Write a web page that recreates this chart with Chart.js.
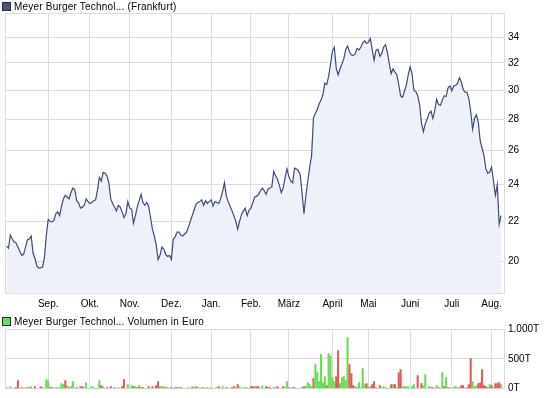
<!DOCTYPE html>
<html>
<head>
<meta charset="utf-8">
<script src="https://cdn.jsdelivr.net/npm/chart.js@4.4.1/dist/chart.umd.min.js"></script>
<style>
html,body{margin:0;padding:0;background:#fff;width:545px;height:398px;overflow:hidden;}
#wrap{position:relative;width:545px;height:398px;font-family:'Liberation Sans',Arial,sans-serif;}
.leg{position:absolute;left:0;height:13px;font-size:10px;line-height:13px;color:#000;letter-spacing:0.2px;white-space:nowrap;}
.leg .sw{position:absolute;left:2px;top:2px;width:7px;height:7px;border:1px solid #2b2b2b;}
.leg .tx{position:absolute;left:14px;top:0;}
#c1{position:absolute;left:0;top:0;}
#c2{position:absolute;left:0;top:316px;}
</style>
</head>
<body>
<div id="wrap">
  <canvas id="c1" width="545" height="316"></canvas>
  <canvas id="c2" width="545" height="82"></canvas>
  <div class="leg" style="top:0px;width:300px"><span class="sw" style="background:#46557f"></span><span class="tx">Meyer Burger Technol... (Frankfurt)</span></div>
  <div class="leg" style="top:315px;width:300px"><span class="sw" style="background:#66dd66"></span><span class="tx">Meyer Burger Technol... Volumen in Euro</span></div>
</div>
<script>
// ---- data ----
const monthLabels = ['Sep.','Okt.','Nov.','Dez.','Jan.','Feb.','März','April','Mai','Juni','Juli','Aug.'];
const monthStarts = [22,44,65,87,108,129,149,172,191,213,235,256];
const priceTicks = [20,22,24,26,28,30,32,34];
const volumeTicks = [0,500,1000];
const volumeTickLabels = ['0T','500T','1.000T'];

const prices = [
20.75,20.65,21.3,21.1,20.95,20.9,20.7,20.5,20.3,20.35,
20.7,21.05,21.1,21.25,20.4,20.15,19.8,19.7,19.72,19.75,
20.2,21.3,22.1,22.0,21.97,22.05,22.4,22.5,22.3,22.8,
23.2,23.4,23.3,23.2,23.55,23.8,23.7,23.1,23.0,22.7,
22.75,22.85,23.2,23.05,22.95,23.0,23.1,23.15,23.7,24.4,
24.2,24.7,24.65,24.5,24.1,23.2,22.95,22.75,22.55,22.85,
22.75,22.5,22.2,22.4,23.05,22.7,22.65,21.9,22.3,22.75,
23.1,23.45,23.0,22.85,23.0,22.8,22.2,21.6,21.25,20.8,
20.1,20.3,20.7,20.6,20.35,20.25,20.3,20.1,21.1,21.2,
21.45,21.45,21.3,21.25,21.35,21.45,21.7,22.0,22.3,22.6,
22.9,23.0,23.05,23.15,22.85,23.1,22.95,23.05,23.15,22.8,
23.05,23.0,22.95,23.2,23.6,24.1,23.35,23.05,22.8,22.55,
22.3,22.0,21.6,22.0,22.35,22.55,22.7,22.3,22.6,22.7,
23.0,23.3,23.35,23.45,23.65,23.8,23.65,23.45,23.75,23.8,
23.85,24.75,24.5,24.3,23.95,23.55,23.8,24.4,24.9,24.45,
24.2,24.1,24.95,24.9,24.8,24.55,23.5,22.4,23.4,24.2,
25.0,25.7,28.1,28.4,28.65,29.05,29.3,29.7,30.5,30.4,
31.0,31.9,32.9,33.2,31.6,31.1,31.55,31.9,32.3,33.0,
33.3,32.85,32.6,32.55,32.7,33.1,33.0,33.2,33.55,33.7,
33.5,33.6,33.9,33.0,32.2,32.95,33.05,32.5,32.7,33.2,
33.4,32.8,31.95,31.2,31.55,31.3,31.1,30.4,29.6,29.5,
29.9,30.35,31.1,31.7,31.2,30.0,29.9,29.6,29.0,27.75,
27.2,27.7,28.0,28.4,28.55,28.05,28.6,29.35,29.0,28.95,
29.3,29.6,29.55,30.15,30.3,29.95,30.3,30.35,30.45,30.9,
30.6,30.05,29.85,29.85,29.4,28.5,27.35,28.05,28.3,27.8,
26.6,26.15,25.7,24.9,24.65,24.7,25.0,24.2,23.4,24.0,
21.85,22.3
];

// volume in thousand euro (T)
const volumes = [
17,0,34,0,0,17,134,0,17,0,
17,17,17,34,0,34,0,0,34,17,
0,150,123,17,17,0,17,17,17,84,
67,134,50,17,34,117,0,17,0,34,
34,17,100,0,0,34,17,0,0,134,
50,34,0,17,0,34,0,17,0,17,
0,34,150,0,67,0,50,34,34,17,
50,17,17,0,0,34,0,34,0,50,
117,34,34,34,17,17,0,17,0,17,
17,17,17,0,0,0,17,0,34,17,
34,17,0,17,17,0,17,0,17,0,
0,17,34,0,34,0,17,0,0,17,
34,17,67,34,0,17,17,17,0,34,
34,34,34,34,0,50,0,34,17,17,
0,17,17,34,0,0,34,17,117,17,
0,17,17,0,0,0,17,34,34,100,
67,34,168,402,268,117,570,100,201,50,
587,553,184,117,201,637,84,184,201,134,
855,402,251,50,34,17,100,17,335,67,
84,17,34,67,117,17,0,50,17,34,
17,0,0,67,67,67,17,268,318,34,
34,34,34,0,34,67,0,218,0,84,
50,235,0,34,17,17,0,50,17,0,
268,34,184,17,17,0,17,34,17,17,
50,50,0,17,67,503,117,34,50,84,
100,318,50,34,17,67,50,17,84,84,
100,67
];

// day direction for the volume bar colour: u = up (green), d = down (red)
const volumeDir = [
'uuuuuddudu','uuduuduudu','uuudduuuuu','ududuuudud','duuuuuuuuu',
'duudududuu','udduuuudud','udduududud','duuuduudud','duduuuuuud',
'uduududuuu','uuduuuduud','duduuuuuud','dudduuuddd','uuuduuduud',
'udduuudduu','uuduuuuuud','uuuudduuuu','uddduuuuuu','ddudduuduu',
'uuudududdu','uuuuuuudud','uuuudduudu','ududuuduuu','dduddduuud',
'dddddududd','du'
].join('').split('');

// ---- chart ----
Chart.defaults.font.family = "'Liberation Sans', Arial, sans-serif";
Chart.defaults.font.size = 10;
Chart.defaults.color = '#000';
Chart.defaults.animation = false;

const XMIN = -0.82, XMAX = 262.82;
const PMIN = 18.55, PMAX = 36;
const gridColor = '#dcdcdc';
const xTickValues = [XMIN].concat(monthStarts, [XMAX]);

function xScale(showLabels, height) {
  return {
    type: 'linear', position: 'bottom', min: XMIN, max: XMAX, offset: false,
    afterBuildTicks: s => { s.ticks = xTickValues.map(v => ({value: v})); },
    afterFit: s => { s.height = height; },
    grid: { display: true, drawOnChartArea: true, color: gridColor, lineWidth: 1, drawTicks: false, offset: false },
    border: { display: false },
    ticks: {
      display: true, padding: 5, maxRotation: 0, autoSkip: false,
      callback: v => {
        const k = monthStarts.indexOf(v);
        return (showLabels && k >= 0) ? monthLabels[k] : '';
      }
    }
  };
}

// month grid lines for the volume panel, placed through the x scale
const monthGrid = {
  id: 'monthGrid',
  beforeDatasetsDraw(chart) {
    const {ctx, chartArea, scales} = chart;
    const x = scales.x;
    ctx.save();
    ctx.strokeStyle = gridColor;
    ctx.lineWidth = 1;
    monthStarts.forEach(v => {
      const px = Math.round(x.getPixelForValue(v) - 0.5) + 0.5;
      ctx.beginPath();
      ctx.moveTo(px, chartArea.top);
      ctx.lineTo(px, chartArea.bottom);
      ctx.stroke();
    });
    ctx.restore();
  }
};

new Chart(document.getElementById('c1'), {
  type: 'line',
  data: {
    datasets: [{
      data: prices.map((v, i) => ({x: i, y: v})),
      borderColor: '#3b4c7c',
      borderWidth: 1.2,
      backgroundColor: '#eef1fa',
      fill: 'start',
      pointRadius: 0,
      tension: 0
    }]
  },
  options: {
    responsive: false,
    layout: { padding: { left: 2, top: 13, right: 0, bottom: 0 } },
    plugins: { legend: { display: false }, tooltip: { enabled: false } },
    scales: {
      x: xScale(true, 22.5),
      y: {
        type: 'logarithmic', position: 'right', min: PMIN, max: PMAX,
        afterBuildTicks: s => { s.ticks = [PMIN].concat(priceTicks, [PMAX]).map(v => ({value: v})); },
        afterFit: s => { s.width = 40.5; },
        grid: { color: gridColor, lineWidth: 1, drawTicks: false },
        border: { display: false },
        ticks: { padding: 3.5, autoSkip: false, callback: v => priceTicks.includes(v) ? String(v) : '' }
      }
    }
  }
});

new Chart(document.getElementById('c2'), {
  type: 'line',
  data: {
    datasets: [{
      type: 'bar',
      data: volumes.map((v, i) => ({x: i, y: v})),
      backgroundColor: volumeDir.map(d => d === 'u' ? '#66dd55' : '#e05a5a'),
      borderWidth: 0,
      barThickness: 1.4
    }]
  },
  plugins: [monthGrid],
  options: {
    responsive: false,
    layout: { padding: { left: 2, top: 13, right: 0, bottom: 0 } },
    plugins: { legend: { display: false }, tooltip: { enabled: false } },
    scales: {
      x: xScale(false, 8.5),
      y: {
        type: 'linear', position: 'right', min: 0, max: 1000,
        afterBuildTicks: s => { s.ticks = volumeTicks.map(v => ({value: v})); },
        afterFit: s => { s.width = 40.5; },
        grid: { color: gridColor, lineWidth: 1, drawTicks: false },
        border: { display: false },
        ticks: { padding: 3.5, autoSkip: false, callback: v => volumeTickLabels[volumeTicks.indexOf(v)] }
      }
    }
  }
});
</script>
</body>
</html>
